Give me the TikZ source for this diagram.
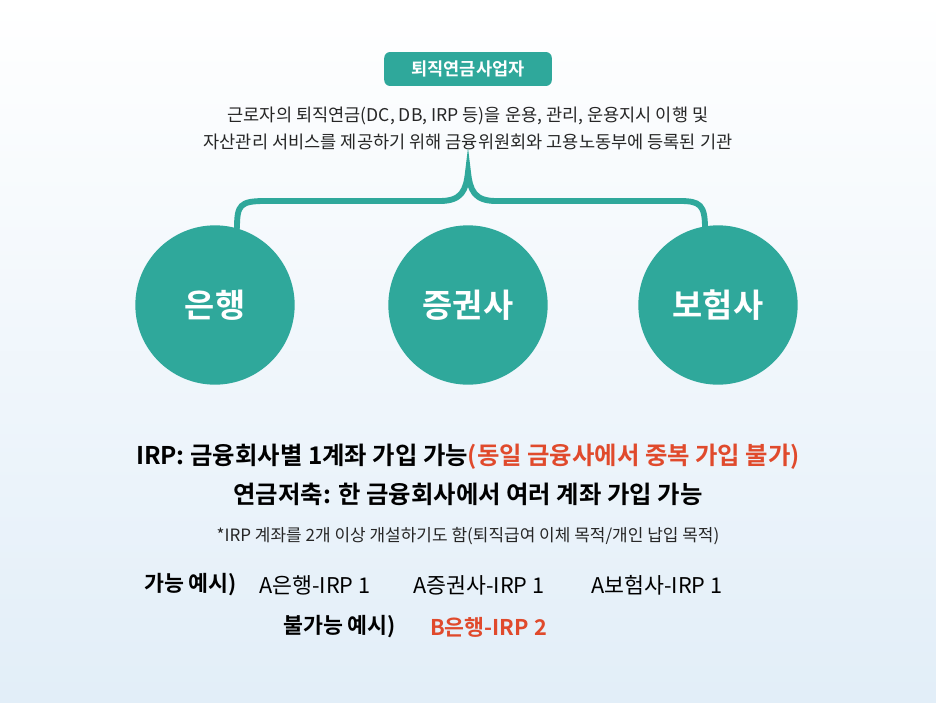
\documentclass[tikz,border=0pt]{standalone}
\usepackage{fontspec}
\setmainfont{Noto Sans CJK KR}
\newfontfamily\krbold{Noto Sans CJK KR}[UprightFont={* Bold}]
\definecolor{teal}{HTML}{2FA89B}
\definecolor{warnred}{HTML}{E04A2C}
\definecolor{bgblue}{HTML}{E2EEF8}
\tikzset{
  firm/.style={circle, fill=teal, minimum size=136pt, inner sep=0pt, text=white, font=\krbold\fontsize{28}{32}\selectfont},
  tag/.style={rounded corners=5pt, fill=teal, text=white, minimum width=143pt, minimum height=29pt, font=\krbold\fontsize{15}{18}\selectfont},
  note/.style={font=\fontsize{15}{18}\selectfont, text=black!85},
  head/.style={font=\krbold\fontsize{20.8}{24}\selectfont},
  ex/.style={font=\fontsize{18.5}{22}\selectfont, anchor=west},
  exbold/.style={ex, font=\krbold\fontsize{18.5}{22}\selectfont},
}
\begin{document}
\begin{tikzpicture}[x=0.03cm, y=-0.03cm]
  \shade[top color=white, bottom color=bgblue] (0,0) rectangle (936,702);
  \useasboundingbox (0,0) rectangle (936,702);
  \node[tag] (title) at (468,69) {퇴직연금사업자};
  \node[note] (desc1) at (468,116) {근로자의 퇴직연금(DC, DB, IRP 등)을 운용, 관리, 운용지시 이행 및};
  \node[note] (desc2) at (468,142) {자산관리 서비스를 제공하기 위해 금융위원회와 고용노동부에 등록된 기관};
  \node[firm] (bank) at (215,305) {은행};
  \node[firm] (sec) at (468,305) {증권사};
  \node[firm] (ins) at (718,305) {보험사};
  % brace
  \coordinate (tip) at (468,172);
  \draw[teal, line width=5pt, line cap=round]
    (237,228) .. controls (237,205) and (240,201) .. (265,201)
    -- (440,201) .. controls (462,201) and (466,190) .. (tip)
    .. controls (470,190) and (474,201) .. (496,201)
    -- (680,201) .. controls (700,201) and (705,205) .. (705,228);
  \node[head] (irp) at (468,457) {IRP: 금융회사별 1계좌 가입 가능\textcolor{warnred}{(동일 금융사에서 중복 가입 불가)}};
  \node[head] (pension) at (468,494) {연금저축: 한 금융회사에서 여러 계좌 가입 가능};
  \node[note, font=\fontsize{14.5}{17}\selectfont] (remark) at (468,536) {*IRP 계좌를 2개 이상 개설하기도 함(퇴직급여 이체 목적/개인 납입 목적)};
  \node[exbold] (okhead) at (140,585) {가능 예시)};
  \node[ex] (ok1) at (255,585) {A은행-IRP 1};
  \node[ex] (ok2) at (409,585) {A증권사-IRP 1};
  \node[ex] (ok3) at (587,585) {A보험사-IRP 1};
  \node[exbold] (nohead) at (279,627) {불가능 예시)};
  \node[exbold, text=warnred] (no1) at (426,627) {B은행-IRP 2};
\end{tikzpicture}
\end{document}
